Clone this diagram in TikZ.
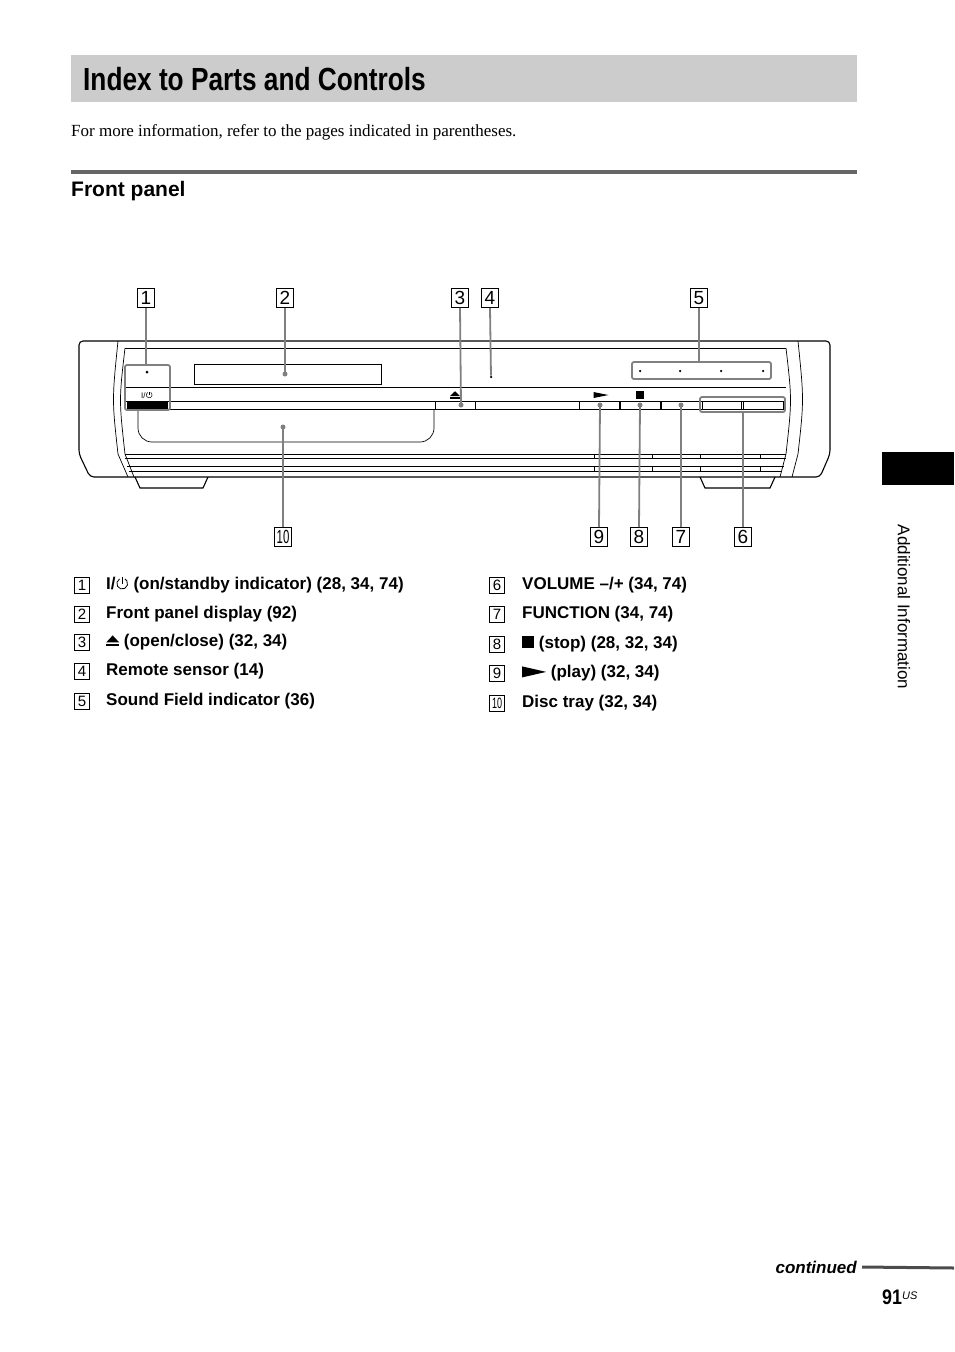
\documentclass[tikz,border=0pt]{standalone}
\usepackage{fontspec}
\setmainfont{Liberation Serif}
\setsansfont{Liberation Sans}
\newfontfamily\dejavu{DejaVu Sans}
\begin{document}
\begin{tikzpicture}[x=1pt,y=-1pt,
  numbox/.style={draw,line width=0.9pt,inner sep=0pt,minimum width=17pt,minimum height=19pt,font=\sffamily\fontsize{19}{19}\selectfont},
  lnum/.style={draw,line width=0.7pt,inner sep=0pt,minimum width=15pt,minimum height=16pt,font=\sffamily\fontsize{15}{15}\selectfont},
  item/.style={anchor=west,inner sep=0pt,font=\sffamily\bfseries\fontsize{17}{17}\selectfont},
  leader/.style={draw=gray,line width=1.8pt},
  body/.style={line width=1.1pt},
  thin/.style={line width=0.7pt},
  hl/.style={draw=gray,line width=1.8pt,rounded corners=2pt},
  dot/.style={circle,fill,inner sep=0pt,minimum size=3pt}]
\useasboundingbox (0,0) rectangle (954,1352);
% header
\fill[black!20] (71,55) rectangle (857,102);
\node[anchor=west,inner sep=0pt,font=\sffamily\bfseries\fontsize{31}{31}\selectfont,xscale=0.8] (title) at (83,79) {\hspace*{0pt}};
\node[anchor=west,inner sep=0pt] (titlet) at (83,79) {\scalebox{0.82}[1]{\sffamily\bfseries\fontsize{32}{32}\selectfont Index to Parts and Controls}};
\node[anchor=west,inner sep=0pt,font=\fontsize{17}{17}\selectfont] (intro) at (71,132) {For more information, refer to the pages indicated in parentheses.};
\fill[black!60] (71,170) rectangle (857,174);
\node[anchor=west,inner sep=0pt,font=\sffamily\bfseries\fontsize{21}{21}\selectfont] (fp) at (71,191) {Front panel};
% side tab
\fill (882,452) rectangle (954,485);
\node[rotate=-90,inner sep=0pt,font=\sffamily\fontsize{17}{17}\selectfont] (tab) at (904,607) {Additional Information};
% device body
\draw[body,rounded corners=4pt] (79,454) -- (79,341) -- (830,341) -- (830,454) -- (820,477) -- (90,477) -- cycle;
\draw[thin] (125,348) -- (786,348);
\draw[thin] (118,341) .. controls (112,400) .. (118,454) -- (128,477);
\draw[thin] (125,348) .. controls (119,400) .. (125,454) -- (134,477);
\draw[thin] (798,341) .. controls (804,400) .. (798,454) -- (792,477);
\draw[thin] (786,348) .. controls (792,400) .. (786,454) -- (780,477);
\draw[thin] (125,387) -- (786,387);
\draw[thin] (125,401) -- (786,401);
\draw[thin] (125,409) -- (786,409);
\draw[thin,rounded corners=14pt] (138,409) -- (138,442) -- (434,442) -- (434,409);
\draw[thin] (125,454) -- (786,454);
\draw[thin] (125,458) -- (786,458);
\draw[thin] (127,466) -- (784,466);
\draw[thin] (129,471) -- (782,471);
\foreach \x in {594,652,700,760}{\draw[thin] (\x,454)--(\x,458) (\x,466)--(\x,471);}
% feet
\draw[body] (135,477) -- (140,488) -- (203,488) -- (208,477);
\draw[body] (700,477) -- (705,488) -- (770,488) -- (775,477);
% display etc
\draw[thin] (194,364) rectangle (381,384);
\node[dot] (d1) at (147,372) {};
\node[inner sep=0pt,font=\sffamily\fontsize{8}{8}\selectfont] (pw) at (147,395) {I/\tikz[x=1pt,y=1pt,baseline=0pt]{\draw[line width=0.5pt] (0,3.5)--(0,6.5); \draw[line width=0.5pt] (-1.5,5.8) arc (120:420:2.9);}};
\fill (127,402) rectangle (168,409);
\draw[thin] (435,401) rectangle (475,409);
\node[inner sep=0pt] (ej) at (455,395) {\tikz[x=1pt,y=1pt]{\fill (-5,0) rectangle (5,1.4); \fill (-5,2.6)--(5,2.6)--(0,7.5)--cycle;}};
\node[dot,minimum size=2.5pt] (rs) at (491,377) {};
\foreach \x in {640,680,721,763}{\node[dot,minimum size=2.5pt] at (\x,371) {};}
\foreach \a/\b in {579/619,620/660,661/700,702/741,743/783}{\draw[thin] (\a,401) rectangle (\b,409);}
\node[inner sep=0pt] (play) at (601,395) {\tikz[x=1pt,y=1pt]{\fill (0,0)--(15,3)--(0,6)--cycle;}};
\node[inner sep=0pt] (stop) at (640,395) {\tikz[x=1pt,y=1pt]{\fill (0,0) rectangle (8,8);}};
% highlight boxes
\draw[hl] (125,365) rectangle (170,410);
\draw[hl] (632,362) rectangle (771,379);
\draw[hl] (700,397) rectangle (785,412);
% targets
\coordinate (t1) at (146,365); \coordinate (t2) at (285,374); \coordinate (t3) at (461,405);
\coordinate (t5) at (699,362); \coordinate (t10) at (283,427); \coordinate (t9) at (600,405);
\coordinate (t8) at (640,405); \coordinate (t7) at (681,405); \coordinate (t6) at (743,412);
\foreach \c in {t2,t3,t10,t9,t8,t7}{\fill[gray] (\c) circle (2.5pt);}
% label boxes
\node[numbox] (n1) at (146,298) {1};
\node[numbox] (n2) at (285,298) {2};
\node[numbox] (n3) at (460,298) {3};
\node[numbox] (n4) at (490,298) {4};
\node[numbox] (n5) at (699,298) {5};
\node[numbox] (n10) at (283,537) {\scalebox{0.6}[1]{10}};
\node[numbox] (n9) at (599,537) {9};
\node[numbox] (n8) at (639,537) {8};
\node[numbox] (n7) at (681,537) {7};
\node[numbox] (n6) at (743,537) {6};
\draw[leader] (n1.south) -- (t1);
\draw[leader] (n2.south) -- (t2);
\draw[leader] (n3.south) -- (t3);
\draw[leader] (n4.south) -- (rs);
\draw[leader] (n5.south) -- (t5);
\draw[leader] (n10.north) -- (t10);
\draw[leader] (n9.north) -- (t9);
\draw[leader] (n8.north) -- (t8);
\draw[leader] (n7.north) -- (t7);
\draw[leader] (n6.north) -- (t6);
% list
\node[lnum] (l1) at (82,585) {1}; \node[item] (i1) at (106,585) {I/\tikz[x=1pt,y=1pt,baseline=0pt]{\draw[line width=0.8pt] (0,5.5)--(0,12); \draw[line width=0.8pt] (-2.8,10.5) arc (120:420:5.4);} (on/standby indicator) (28, 34, 74)};
\node[lnum] (l2) at (82,614) {2}; \node[item] (i2) at (106,614) {Front panel display (92)};
\node[lnum] (l3) at (82,642) {3}; \node[item] (i3) at (106,642) {\tikz[x=1pt,y=1pt,baseline=0pt]{\fill (0,0) rectangle (13,2); \fill (0,4)--(13,4)--(6.5,11)--cycle;} (open/close) (32, 34)};
\node[lnum] (l4) at (82,671) {4}; \node[item] (i4) at (106,671) {Remote sensor (14)};
\node[lnum] (l5) at (82,701) {5}; \node[item] (i5) at (106,701) {Sound Field indicator (36)};
\node[lnum] (l6) at (497,585) {6}; \node[item] (i6) at (522,585) {VOLUME –/+ (34, 74)};
\node[lnum] (l7) at (497,614) {7}; \node[item] (i7) at (522,614) {FUNCTION (34, 74)};
\node[lnum] (l8) at (497,644) {8}; \node[item] (i8) at (522,644) {\tikz[x=1pt,y=1pt,baseline=0pt]{\fill (0,0) rectangle (12,12);} (stop) (28, 32, 34)};
\node[lnum] (l9) at (497,673) {9}; \node[item] (i9) at (522,673) {\tikz[x=1pt,y=1pt,baseline=0pt]{\fill (0,0)--(24,5.5)--(0,11)--cycle;} (play) (32, 34)};
\node[lnum] (l10) at (497,703) {\scalebox{0.6}[1]{10}}; \node[item] (i10) at (522,703) {Disc tray (32, 34)};
% footer
\node[anchor=east,inner sep=0pt,font=\sffamily\bfseries\itshape\fontsize{17}{17}\selectfont] (cont) at (857,1267) {continued};
\coordinate (ce) at (954,1268);
\draw[line width=3pt,black!70] ([xshift=5pt]cont.east) -- (ce);
\node[anchor=west,inner sep=0pt,font=\sffamily\bfseries\fontsize{21}{21}\selectfont] (pg) at (882,1297) {\scalebox{0.85}[1]{91}\raisebox{5pt}{\fontsize{11}{11}\mdseries\itshape US}};
\end{tikzpicture}
\end{document}
